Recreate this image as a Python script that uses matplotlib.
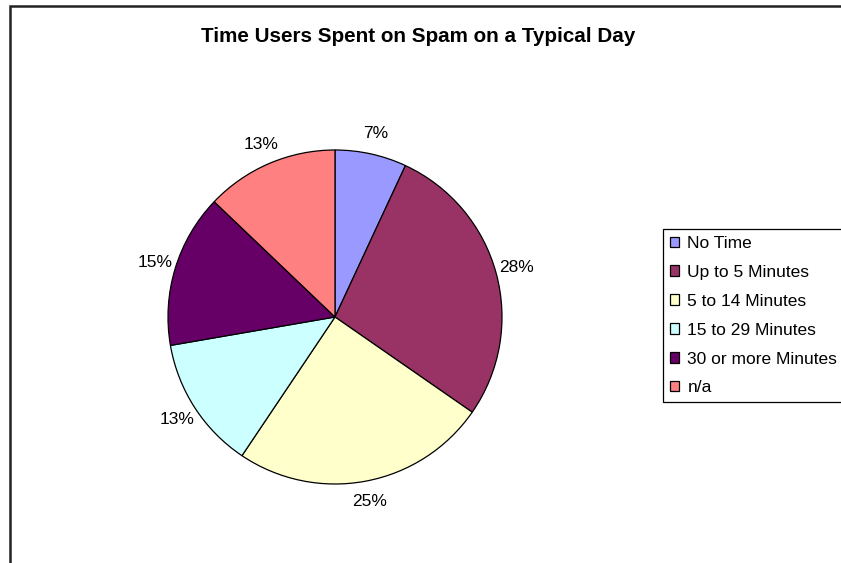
import matplotlib
matplotlib.use("Agg")
from matplotlib import pyplot as plt
from matplotlib.patches import Rectangle

# data
categories = ["No Time", "Up to 5 Minutes", "5 to 14 Minutes",
              "15 to 29 Minutes", "30 or more Minutes", "n/a"]
shares = [7, 28, 25, 13, 15, 13]
colors = ["#9999FF", "#993366", "#FFFFCC", "#CCFFFF", "#660066", "#FF8080"]

plt.rcParams['font.family'] = ['Liberation Sans', 'DejaVu Sans']

W, H = 841, 563
fig = plt.figure(figsize=(W/100, H/100), dpi=100)

# outer chart frame (only left and top edges fall inside the picture)
fig.patches.append(Rectangle((10/W, -0.1), 1.2, 1 - 6/H + 0.1,
                             transform=fig.transFigure, fill=False,
                             edgecolor="#222222", linewidth=1.8))

fig.text(418/W, 1 - 37/H, "Time Users Spent on Spam on a Typical Day",
         ha="center", va="center", fontsize=14.9, fontweight="bold")

# pie axes: centre (335, 317), radius 167 px
cx, cy, r = 335, 317, 167
ax = fig.add_axes([(cx - r)/W, (H - cy - r)/H, 2*r/W, 2*r/H])
wedges, texts, autotexts = ax.pie(
    shares, colors=colors, startangle=90, counterclock=False,
    autopct="%.0f%%", pctdistance=1.125,
    wedgeprops=dict(edgecolor="black", linewidth=0.9),
    textprops=dict(fontsize=12.5))
ax.set_xlim(-1, 1)
ax.set_ylim(-1, 1)
ax.set_aspect("equal")

leg = fig.legend(wedges, categories, loc="upper left",
                 bbox_to_anchor=(663/W, 1 - 229/H), fontsize=12.5,
                 frameon=True, fancybox=False, edgecolor="black",
                 framealpha=1, handlelength=0.55, handleheight=0.55,
                 handletextpad=0.45, labelspacing=0.80, borderpad=0.4,
                 borderaxespad=0)
leg.get_frame().set_linewidth(0.9)

fig.savefig("out.png", dpi=100)
